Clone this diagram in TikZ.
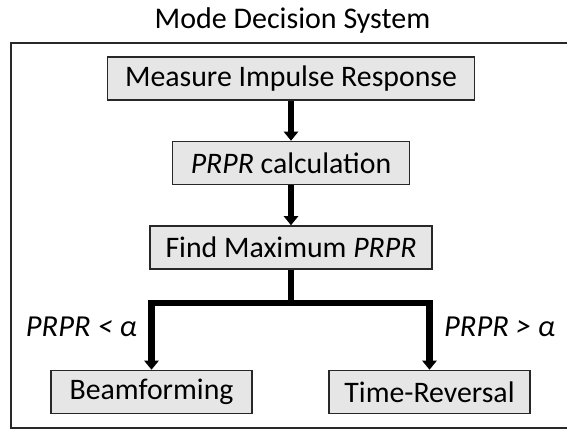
\documentclass[tikz,border=0pt]{standalone}
\usepackage{fontspec}
\setmainfont{Carlito}
\usetikzlibrary{arrows.meta}
\definecolor{boxfill}{RGB}{230,230,230}
\definecolor{edge}{RGB}{40,40,40}
\tikzset{
  stepbox/.style={draw=edge, fill=boxfill, line width=1.5pt, inner sep=0pt,
    minimum height=43pt, font=\fontsize{29.8}{34}\selectfont},
  flow/.style={line width=6.5pt, line join=miter, -{Triangle[width=14pt,length=9pt]}},
  lbl/.style={inner sep=0pt, font=\fontsize{30.5}{34}\selectfont\itshape},
}
\begin{document}
\begin{tikzpicture}[x=1pt,y=1pt]
\useasboundingbox (0,0) rectangle (567,430);
\begin{scope}
\clip (0,0) rectangle (567,430);
\draw[edge, line width=1.5pt] (11,2) rectangle (600,387);
\end{scope}
\node[anchor=base, font=\fontsize{30}{34}\selectfont] (title) at (292.5,401) {Mode Decision System};
\node[stepbox, minimum width=367pt] (mir) at (291,351.5) {Measure Impulse Response};
\node[stepbox, minimum width=237pt] (calc) at (291,267) {\textit{PRPR} calculation};
\node[stepbox, minimum width=282pt] (fmax) at (291,182.5) {Find Maximum \textit{PRPR}};
\node[stepbox, minimum width=201pt] (bf) at (151.5,38) {Beamforming};
\node[stepbox, minimum width=201pt] (tr) at (429.5,38) {Time-Reversal};
\coordinate (split) at (291,127);
\draw[flow] (mir.south) -- (calc.north);
\draw[flow] (calc.south) -- (fmax.north);
\draw[flow] (fmax.south) -- (split) -| (bf.north);
\draw[flow] (fmax.south) -- (split) -| (tr.north);
\node[lbl, anchor=east] (lt) at (137,103) {PRPR < α};
\node[lbl, anchor=west] (gt) at (444,103) {PRPR > α};
\end{tikzpicture}
\end{document}
